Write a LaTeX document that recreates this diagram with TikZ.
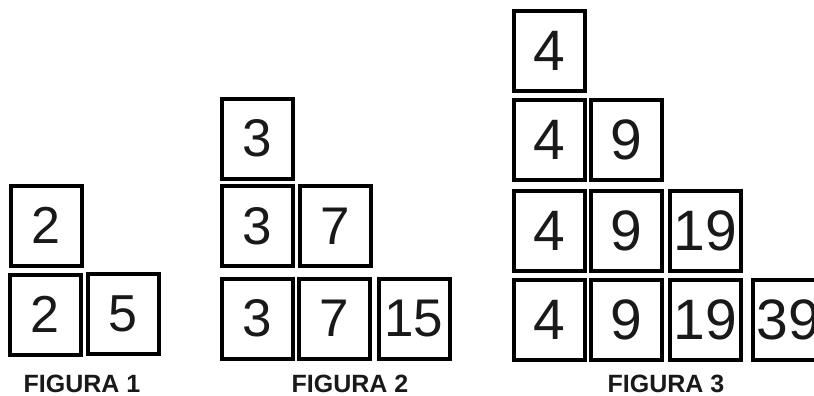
\documentclass[tikz,border=0pt]{standalone}
\usepackage{fontspec}
\setmainfont{Liberation Sans}
\begin{document}
\begin{tikzpicture}[x=1pt,y=-1pt,
  cell/.style={draw=black,line width=4pt,minimum width=71pt,minimum height=80pt,inner sep=0pt,
    font=\fontsize{52}{52}\selectfont,text=black!90},
  cellb/.style={cell,font=\fontsize{53}{53}\selectfont},
  cellc/.style={cell,font=\fontsize{57}{57}\selectfont},
  figlabel/.style={font=\bfseries\fontsize{25}{25}\selectfont,text=black!90,inner sep=0pt}]
\useasboundingbox (0,0) rectangle (814,396);
% Figura 1
\node[cell] (a1) at (46,225.5) {2};
\node[cell] (a2) at (45,314.5) {2};
\node[cell] (a3) at (123,313.5) {5};
\node[figlabel] (la) at (82,383.5) {FIGURA 1};
% Figura 2
\node[cellb] (b1) at (257,138.5) {3};
\node[cellb] (b2) at (257,226) {3};
\node[cellb] (b3) at (335,226) {7};
\node[cellb] (b4) at (257,318.5) {3};
\node[cellb] (b5) at (334,318.5) {7};
\node[cellb] (b6) at (414,318.5) {15};
\node[figlabel] (lb) at (350,383.5) {FIGURA 2};
% Figura 3
\node[cellc] (c1) at (549.5,51) {4};
\node[cellc] (c2) at (549.5,139.5) {4};
\node[cellc] (c3) at (626.5,139.5) {9};
\node[cellc] (c4) at (549.5,230.5) {4};
\node[cellc] (c5) at (626.5,230.5) {9};
\node[cellc] (c6) at (705.5,230.5) {19};
\node[cellc] (c7) at (549.5,319.5) {4};
\node[cellc] (c8) at (626.5,319.5) {9};
\node[cellc] (c9) at (705.5,319.5) {19};
\node[cellc] (c10) at (788.5,319.5) {39};
\node[figlabel] (lc) at (666,383.5) {FIGURA 3};
\end{tikzpicture}
\end{document}
